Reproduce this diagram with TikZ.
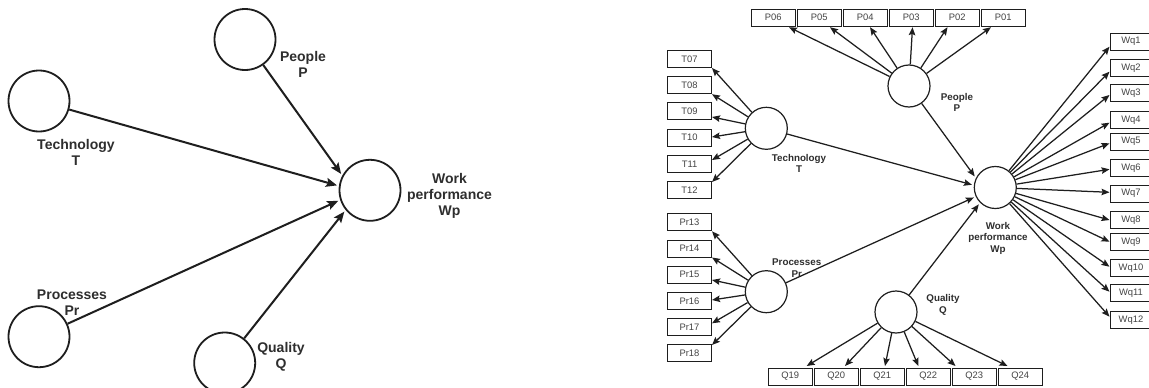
\documentclass[tikz,border=0pt]{standalone}
\usepackage{fontspec}
\setmainfont{Liberation Sans}
\usetikzlibrary{arrows.meta,calc}
\definecolor{ink}{HTML}{1E1E1E}
\definecolor{lab}{HTML}{2E2E2E}
\definecolor{boxt}{HTML}{444444}
\begin{document}
\begin{tikzpicture}[x=1pt,y=-1pt,
  bigcirc/.style={circle,draw=ink,line width=1.8pt,minimum size=61pt,inner sep=0pt},
  bigarr/.style={draw=ink,line width=2pt,-{Stealth[length=11pt,width=9pt,inset=2pt]},shorten >=2pt},
  biglab/.style={align=center,text=lab,font=\fontsize{14}{16}\selectfont\bfseries,inner sep=0pt},
  lv/.style={circle,draw=ink,line width=1.2pt,minimum size=42pt,inner sep=0pt},
  ind/.style={draw=ink,line width=1pt,minimum width=44pt,minimum height=17pt,inner sep=0pt,text=boxt,font=\fontsize{9.4}{10}\selectfont},
  lvlab/.style={align=center,text=lab,font=\fontsize{9.8}{11.5}\selectfont\bfseries,inner sep=0pt},
  arr/.style={draw=ink,line width=1.25pt,-{Stealth[length=8pt,width=6.5pt,inset=1.3pt]}},
]
\useasboundingbox (0,0) rectangle (1149,388);
\fill[white] (0,0) rectangle (1149,388);

% ---------- structural model ----------
\node[bigcirc] (Pl)  at (245,39.5)  {};
\node[bigcirc] (Tl)  at (39,101)    {};
\node[bigcirc] (Prl) at (39,336.7)  {};
\node[bigcirc] (Ql)  at (224.7,363) {};
\node[bigcirc] (Wpl) at (370,190.3) {};

\node[biglab] (Pllab)  at (303,64)     {People\\P};
\node[biglab] (Tllab)  at (76,152)     {Technology\\T};
\node[biglab] (Prllab) at (72,303)     {Processes\\Pr};
\node[biglab] (Qllab)  at (281,356.5)  {Quality\\Q};
\node[biglab] (Wpllab) at (449.5,196)  {Work\\performance\\Wp};

\draw[bigarr] (Pl)  -- (Wpl.152);
\draw[bigarr] (Tl)  -- (Wpl.172);
\draw[bigarr] (Prl) -- (Wpl.198);
\draw[bigarr] (Ql)  -- (Wpl.219);

% ---------- measurement model ----------
\node[lv] (P)  at (909,86)      {};
\node[lv] (T)  at (766.3,128.3) {};
\node[lv] (Pr) at (766.3,291.7) {};
\node[lv] (Q)  at (896,312)     {};
\node[lv] (Wp) at (995.3,187.5) {};

\node[lvlab] (Plab)  at (957,102.5) {People\\P};
\node[lvlab] (Tlab)  at (799,163.5) {Technology\\T};
\node[lvlab] (Prlab) at (796.7,268.3) {Processes\\Pr};
\node[lvlab] (Qlab)  at (943,305)   {Quality\\Q};
\node[lvlab] (Wplab) at (998,238)   {Work\\performance\\Wp};

% indicator boxes
\foreach \n/\x in {P06/773.3,P05/819.3,P04/865.3,P03/911.3,P02/957.3,P01/1003.3}
  \node[ind] (\n) at (\x,17.7) {\n};
\foreach \n/\y in {T07/59,T08/85.2,T09/111.4,T10/137.6,T11/163.8,T12/190}
  \node[ind] (\n) at (689.5,\y) {\n};
\foreach \n/\y in {Pr13/222.3,Pr14/248.5,Pr15/274.7,Pr16/300.9,Pr17/327.1,Pr18/353.3}
  \node[ind] (\n) at (689.5,\y) {\n};
\foreach \n/\x in {Q19/790.3,Q20/836.3,Q21/882.3,Q22/928.3,Q23/974.3,Q24/1020.3}
  \node[ind] (\n) at (\x,376.5) {\n};
\foreach \n/\y in {Wq1/41.7,Wq2/67.7,Wq3/92.7,Wq4/120,Wq5/141.7,Wq6/167.7,Wq7/193.5,Wq8/220,Wq9/242.3,Wq10/267.7,Wq11/293.3,Wq12/320}
  \node[ind,minimum width=42pt] (\n) at (1131,\y) {\n};

% loadings
\foreach \n/\d in {P06/15.7,P05/10.7,P04/4.7,P03/1.2,P02/-9.8,P01/-12.3}
  \draw[arr] (P) -- ($(\n.south)+(\d,0.5)$);
\foreach \n/\d in {T07/9,T08/9,T09/5.6,T10/-0.6,T11/-3.8,T12/-8}
  \draw[arr] (T) -- ($(\n.east)+(0,\d)$);
\foreach \n/\d in {Pr13/9,Pr14/9,Pr15/5.3,Pr16/-0.9,Pr17/-3.8,Pr18/-8.3}
  \draw[arr] (Pr) -- ($(\n.east)+(0,\d)$);
\foreach \n/\d in {Q19/16.4,Q20/8.7,Q21/2.7,Q22/-10,Q23/-18.8,Q24/-12.8}
  \draw[arr] (Q) -- ($(\n.north)+(\d,-1.5)$);
\foreach \n/\d in {Wq1/5,Wq2/4,Wq3/2.3,Wq4/2.7,Wq5/1.6,Wq6/1.6,Wq7/-1.2,Wq8/0,Wq9/-0.6,Wq10/-1,Wq11/-1.6,Wq12/-3.3}
  \draw[arr] (Wp) -- ($(\n.west)+(0,\d)$);

% paths
\draw[arr,shorten >=2pt] (P)  -- (Wp.154);
\draw[arr,shorten >=2pt] (T)  -- (Wp.174);
\draw[arr,shorten >=2pt] (Pr) -- (Wp.205);
\draw[arr,shorten >=2pt] (Q)  -- (Wp.225);
\end{tikzpicture}
\end{document}
